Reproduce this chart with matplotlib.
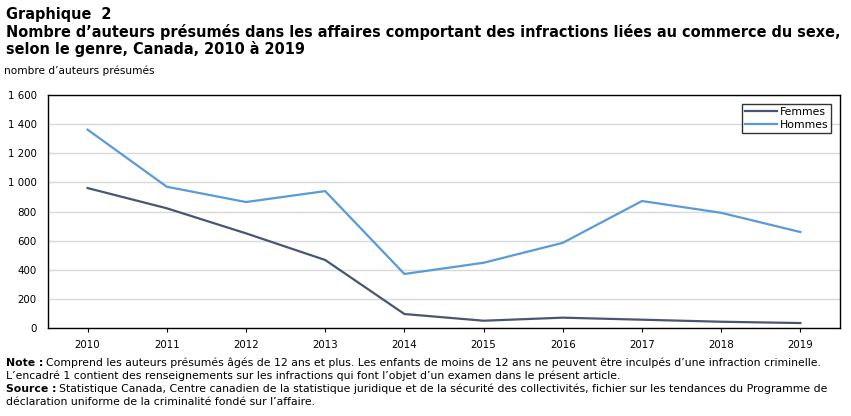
import matplotlib
matplotlib.use("Agg")
import matplotlib.pyplot as plt

years = ["2010", "2011", "2012", "2013", "2014", "2015", "2016", "2017", "2018", "2019"]
femmes = [961, 822, 650, 467, 96, 50, 71, 57, 43, 34]
hommes = [1362, 970, 865, 940, 371, 448, 585, 872, 791, 659]
yticks = [0, 200, 400, 600, 800, 1000, 1200, 1400, 1600]
ytick_labels = ["0", "200", "400", "600", "800", "1 000", "1 200", "1 400", "1 600"]

plt.rcParams['font.family'] = ['DejaVu Sans']

W, H = 851, 416
fig = plt.figure(figsize=(W / 100, H / 100), dpi=100)
ax = fig.add_axes([48 / W, 1 - 328 / H, (840 - 48) / W, (328 - 95) / H])

x = list(range(len(years)))
ax.plot(x, femmes, color="#4a5670", lw=1.6, label="Femmes", zorder=3)
ax.plot(x, hommes, color="#5b9bd5", lw=1.6, label="Hommes", zorder=3)

ax.set_xlim(-0.5, len(years) - 0.5)
ax.set_ylim(0, 1600)
ax.set_xticks(x)
ax.set_xticklabels(years)
ax.set_yticks(yticks)
ax.set_yticklabels(ytick_labels)
ax.tick_params(axis="y", length=0, labelsize=7.4, pad=8)
ax.tick_params(axis="x", length=3, labelsize=7.4, pad=6, direction="out")
ax.yaxis.grid(True, color="#d9d9d9", lw=1)
ax.set_axisbelow(True)
for s in ax.spines.values():
    s.set_color("black")
    s.set_linewidth(1)

leg = ax.legend(loc="upper right", fontsize=7.8, frameon=True, fancybox=False,
                edgecolor="black", borderpad=0.3, handlelength=3.0, handletextpad=0.2,
                labelspacing=0.3, borderaxespad=0.8)
leg.get_frame().set_linewidth(1)

fig.text(6 / W, 1 - 15 / H, "Graphique  2", fontsize=10.45, fontweight="bold", va="center")
fig.text(6 / W, 1 - 32 / H,
         "Nombre d\u2019auteurs présumés dans les affaires comportant des infractions liées au commerce du sexe,",
         fontsize=10.45, fontweight="bold", va="center")
fig.text(6 / W, 1 - 49 / H, "selon le genre, Canada, 2010 à 2019",
         fontsize=10.45, fontweight="bold", va="center")
fig.text(4 / W, 1 - 71 / H, "nombre d\u2019auteurs présumés", fontsize=7.6, va="center")

fig.canvas.draw()
r = fig.canvas.get_renderer()
FS = 7.8

def mixed(y, bold, rest):
    t = fig.text(6 / W, 1 - y / H, bold, fontsize=FS, fontweight="bold", va="center")
    bb = t.get_window_extent(renderer=r)
    fig.text((bb.x1 + 3) / W, 1 - y / H, rest, fontsize=FS, va="center")

mixed(363, "Note :", "Comprend les auteurs présumés âgés de 12 ans et plus. Les enfants de moins de 12 ans ne peuvent être inculpés d\u2019une infraction criminelle.")
fig.text(6 / W, 1 - 376 / H, "L\u2019encadré 1 contient des renseignements sur les infractions qui font l\u2019objet d\u2019un examen dans le présent article.", fontsize=FS, va="center")
mixed(389, "Source :", "Statistique Canada, Centre canadien de la statistique juridique et de la sécurité des collectivités, fichier sur les tendances du Programme de")
fig.text(6 / W, 1 - 402 / H, "déclaration uniforme de la criminalité fondé sur l\u2019affaire.", fontsize=FS, va="center")

fig.savefig("out.png", dpi=100)
